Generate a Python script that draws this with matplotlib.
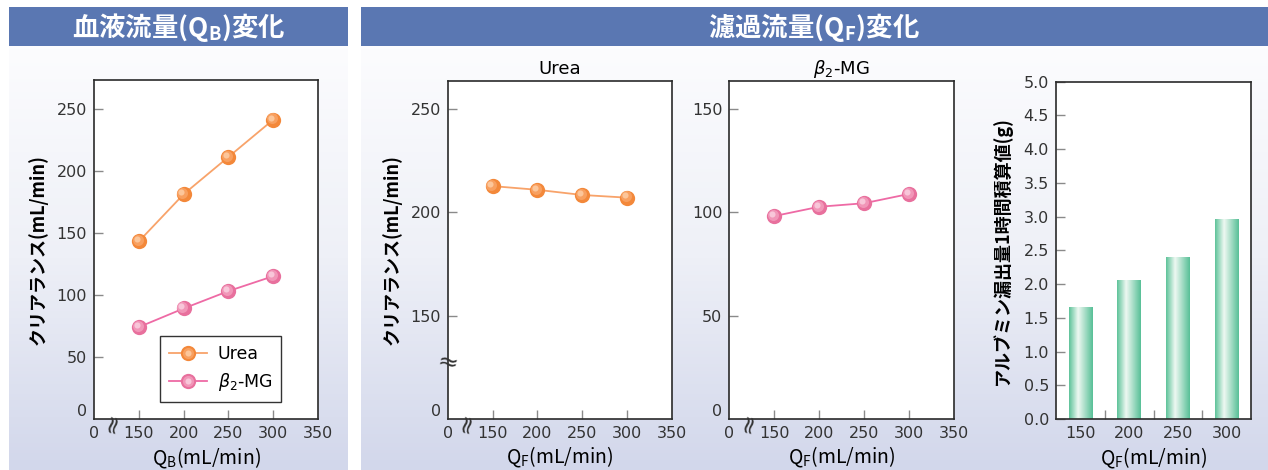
import numpy as np
import matplotlib
matplotlib.use("Agg")
import matplotlib.pyplot as plt
from matplotlib import transforms
from matplotlib.colors import LinearSegmentedColormap
from matplotlib.lines import Line2D
from matplotlib.patches import Rectangle

plt.rcParams['font.family'] = ['DejaVu Sans', 'Noto Sans CJK JP']
plt.rcParams['mathtext.fontset'] = 'dejavusans'

# data
qb = [150, 200, 250, 300]
qb_urea = [143, 181, 211, 241]
qb_mg = [74, 89, 103, 115]

qf = [150, 200, 250, 300]
qf_urea = [212.7, 210.9, 208.4, 207.1]
qf_mg = [98.2, 102.7, 104.4, 108.9]
qf_albumin = [1.66, 2.06, 2.39, 2.95]

x_ticks = [100, 150, 200, 250, 300, 350]
x_tick_labels = ['0', '150', '200', '250', '300', '350']
qb_y_ticks = [0, 50, 100, 150, 200, 250]
urea_y_ticks = [100, 150, 200, 250]
urea_y_labels = ['0', '150', '200', '250']
mg_y_ticks = [0, 50, 100, 150]
alb_y_ticks = [0, 0.5, 1.0, 1.5, 2.0, 2.5, 3.0, 3.5, 4.0, 4.5, 5.0]

JP = 'Noto Sans CJK JP'
W, H = 1268, 470

URE = dict(line='#f8a36a', base='#f3883a', mid='#f8a060', light='#fcc69a')
MG = dict(line='#ee6aa5', base='#e8709d', mid='#f196b8', light='#f8c6d9')

fig = plt.figure(figsize=(W / 100, H / 100), dpi=100)

# background, headers
bg = fig.add_axes([0, 0, 1, 1], zorder=-10)
bg.set_xlim(0, W)
bg.set_ylim(H, 0)
bg.axis('off')
bg_cmap = LinearSegmentedColormap.from_list('bg', ['#fcfcfe', '#eef0f7', '#d2d7eb'])
vgrad = np.linspace(0, 1, 128).reshape(-1, 1)
for x0, x1 in [(9, 348), (361, W)]:
    bg.imshow(vgrad, extent=[x0, x1, H, 46], origin='upper', aspect='auto', cmap=bg_cmap)
    bg.add_patch(Rectangle((x0, 7), x1 - x0, 39, color='#5a77b2', lw=0))
bg.set_xlim(0, W)
bg.set_ylim(H, 0)
bg.text(178.5, 27, '血液流量(Q$\\mathregular{_B}$)変化', color='white', fontsize=19,
        family=JP, weight='bold', ha='center', va='center')
bg.text(814, 27, '濾過流量(Q$\\mathregular{_F}$)変化', color='white', fontsize=19,
        family=JP, weight='bold', ha='center', va='center')


def px_axes(left, right, top, bottom):
    return fig.add_axes([left / W, (H - bottom) / H, (right - left) / W, (bottom - top) / H])


def style(ax):
    for s in ax.spines.values():
        s.set_color('#2a2a2a')
        s.set_linewidth(1.2)
    ax.tick_params(direction='in', length=6.5, width=1, color='#8a8a8a',
                   labelsize=11.5, labelcolor='#333333', pad=5)


def spheres(ax, x, y, c, ms=11):
    ax.plot(x, y, '-', color=c['line'], lw=1.3, zorder=3)
    ax.plot(x, y, 'o', ms=ms, color=c['base'], mec='none', zorder=4)
    t1 = transforms.offset_copy(ax.transData, fig=fig, x=-0.9, y=0.9, units='points')
    ax.plot(x, y, 'o', ms=ms * 0.72, color=c['mid'], mec='none', zorder=5, transform=t1)
    t2 = transforms.offset_copy(ax.transData, fig=fig, x=-1.6, y=1.6, units='points')
    ax.plot(x, y, 'o', ms=ms * 0.4, color=c['light'], mec='none', zorder=6, transform=t2)


def line_panel_x(ax, xlabel):
    ax.set_xlim(100, 350)
    ax.set_xticks(x_ticks)
    ax.set_xticklabels(x_tick_labels)
    ticks = ax.xaxis.get_major_ticks()
    ticks[0].tick1line.set_visible(False)
    ticks[-1].tick1line.set_visible(False)
    ax.set_xlabel(xlabel, family=JP, fontsize=14, va='center')
    ax.xaxis.set_label_coords(0.5, -0.115)
    # axis break on x
    ax.text(122, -0.012, '≈', transform=ax.get_xaxis_transform(), rotation=78,
            ha='center', va='center', fontsize=18, color='#333333', clip_on=False)


def zero_label(ax):
    t = ax.yaxis.get_major_ticks()[0]
    t.tick1line.set_visible(False)
    t.label1.set_verticalalignment('bottom')


ylab = 'クリアランス(mL/min)'

# panel 1: QB
ax1 = px_axes(94, 318, 80, 419)
style(ax1)
spheres(ax1, qb, qb_urea, URE)
spheres(ax1, qb, qb_mg, MG)
ax1.set_ylim(0, 273)
ax1.set_yticks(qb_y_ticks)
zero_label(ax1)
line_panel_x(ax1, 'Q$\\mathregular{_B}$(mL/min)')
ax1.set_ylabel(ylab, family=JP, fontsize=13, weight='bold', va='center')
ax1.yaxis.set_label_coords(-0.25, 0.5)


def legend_handle(c):
    return (Line2D([], [], color=c['line'], lw=1.3, marker='o', ms=11, mfc=c['base'], mec='none'),
            Line2D([], [], ls='none', marker='o', ms=8, mfc=c['mid'], mec='none'),
            Line2D([], [], ls='none', marker='o', ms=4.4, mfc=c['light'], mec='none'))


leg = ax1.legend([legend_handle(URE), legend_handle(MG)], ['Urea', r'$\beta_2$-MG'],
                 loc='lower right', bbox_to_anchor=(0.835, 0.05), borderaxespad=0,
                 fancybox=False, framealpha=1, edgecolor='#333333', fontsize=12.5,
                 handlelength=2.2, handletextpad=0.6, borderpad=0.5, labelspacing=0.5)
leg.get_frame().set_linewidth(1)

# panel 2: QF Urea
ax2 = px_axes(447.7, 672, 80.7, 419)
style(ax2)
spheres(ax2, qf, qf_urea, URE)
ax2.set_ylim(100, 263.7)
ax2.set_yticks(urea_y_ticks)
ax2.set_yticklabels(urea_y_labels)
zero_label(ax2)
line_panel_x(ax2, 'Q$\\mathregular{_F}$(mL/min)')
ax2.set_ylabel(ylab, family=JP, fontsize=13, weight='bold', va='center')
ax2.yaxis.set_label_coords(-0.248, 0.5)
ax2.set_title('Urea', fontsize=13, pad=5)
ax2.text(0, 126.6, '≈', transform=ax2.get_yaxis_transform(), rotation=-12,
         ha='center', va='center', fontsize=18, color='#333333', clip_on=False)

# panel 3: QF beta2-MG
ax3 = px_axes(729.3, 954, 80.7, 419)
style(ax3)
spheres(ax3, qf, qf_mg, MG)
ax3.set_ylim(0, 163.7)
ax3.set_yticks(mg_y_ticks)
zero_label(ax3)
line_panel_x(ax3, 'Q$\\mathregular{_F}$(mL/min)')
ax3.set_title(r'$\beta_2$-MG', fontsize=13, pad=5)

# panel 4: albumin leakage bars
ax4 = px_axes(1056, 1251.3, 81.7, 419)
style(ax4)
bar_cmap = LinearSegmentedColormap.from_list(
    'bar', [(0, '#5fc39a'), (0.38, '#eef8f2'), (1, '#58c097')])
hgrad = np.linspace(0, 1, 64).reshape(1, -1)
pos = np.arange(len(qf))
bars = ax4.bar(pos, qf_albumin, width=0.485, color='none', lw=0, zorder=2)
for b in bars:
    ax4.imshow(hgrad, extent=[b.get_x(), b.get_x() + b.get_width(), 0, b.get_height()],
               aspect='auto', cmap=bar_cmap, zorder=2)
ax4.set_xlim(-0.5, len(qf) - 0.5)
ax4.set_ylim(0, 5)
ax4.set_yticks(alb_y_ticks)
ax4.set_yticklabels(['%.1f' % v for v in alb_y_ticks])
ax4.set_xticks(pos)
ax4.set_xticklabels([str(v) for v in qf])
ax4.set_xticks(pos[:-1] + 0.5, minor=True)
ax4.tick_params(axis='x', which='major', length=0)
ax4.tick_params(axis='x', which='minor', direction='in', length=6.5, width=1, color='#8a8a8a')
ax4.set_xlabel('Q$\\mathregular{_F}$(mL/min)', family=JP, fontsize=14, va='center')
ax4.xaxis.set_label_coords(0.5, -0.116)
ax4.set_ylabel('アルブミン漏出量1時間積算値(g)', family=JP, fontsize=13,
               weight='bold', va='center')
ax4.yaxis.set_label_coords(-0.276, 0.5)

fig.savefig('out.png', dpi=100)
